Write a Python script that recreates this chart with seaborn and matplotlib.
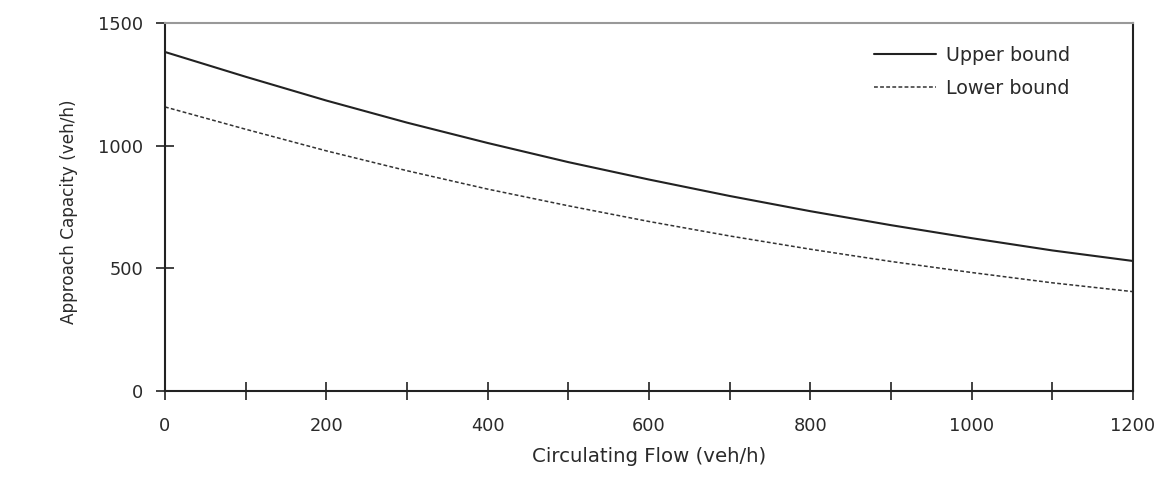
import matplotlib
matplotlib.use("Agg")
import matplotlib.pyplot as plt
import seaborn as sns
import pandas as pd
from matplotlib.ticker import MultipleLocator

circulating_flow = [0, 100, 200, 300, 400, 500, 600, 700, 800, 900, 1000, 1100, 1200]
upper_bound = [1382, 1281, 1184, 1094, 1011, 933, 862, 795, 733, 676, 623, 573, 530]
lower_bound = [1158, 1067, 979, 898, 823, 755, 691, 632, 578, 528, 483, 441, 405]

sns.set_theme(style="white")
plt.rcParams['font.family'] = ['DejaVu Sans']

fig = plt.figure(figsize=(11.69, 4.94), dpi=100)
ax = fig.add_axes([0.1411, 0.2085, 0.8281, 0.7449])

df_u = pd.DataFrame({"x": circulating_flow, "y": upper_bound})
df_l = pd.DataFrame({"x": circulating_flow, "y": lower_bound})
sns.lineplot(data=df_u, x="x", y="y", ax=ax, color="#222222", linewidth=1.5, label="Upper bound")
sns.lineplot(data=df_l, x="x", y="y", ax=ax, color="#333333", linewidth=1.1,
             linestyle=(0, (2.5, 1.5)), label="Lower bound")

ax.set_xlim(0, 1200)
ax.set_ylim(0, 1500)
ax.xaxis.set_major_locator(MultipleLocator(200))
ax.xaxis.set_minor_locator(MultipleLocator(100))
ax.yaxis.set_major_locator(MultipleLocator(500))
ax.tick_params(axis='both', which='both', direction='inout', length=13, width=1.3,
               color="#333333", labelsize=12.8, labelcolor="#2a2a2a")
ax.tick_params(axis='x', which='both', bottom=True, pad=12)
ax.tick_params(axis='y', which='both', left=True, pad=9)

for side in ["left", "bottom", "right"]:
    ax.spines[side].set_color("#222222")
    ax.spines[side].set_linewidth(1.5)
ax.spines["top"].set_color("#999999")
ax.spines["top"].set_linewidth(1.5)

ax.set_xlabel("Circulating Flow (veh/h)", fontsize=14.2, color="#2a2a2a", labelpad=9)
ax.set_ylabel("Approach Capacity (veh/h)", fontsize=12.2, color="#2a2a2a")
ax.yaxis.set_label_coords(-0.09, 0.486)

leg = ax.legend(loc="upper left", bbox_to_anchor=(0.715, 0.985), frameon=False,
                fontsize=13.8, handlelength=3.2, labelspacing=0.75, handletextpad=0.55)
for t in leg.get_texts():
    t.set_color("#2a2a2a")

fig.savefig("out.png", dpi=100)
